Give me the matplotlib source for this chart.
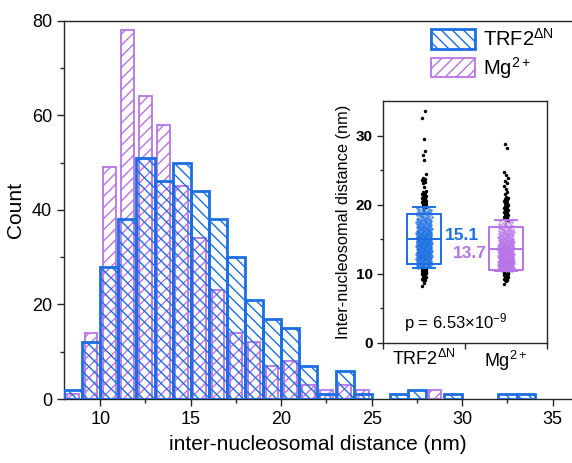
import numpy as np
import matplotlib
matplotlib.use('Agg')
import matplotlib.pyplot as plt

plt.rcParams['font.family'] = ['Liberation Sans', 'DejaVu Sans']
plt.rcParams['mathtext.fontset'] = 'custom'
plt.rcParams['mathtext.rm'] = 'Liberation Sans'
plt.rcParams['mathtext.it'] = 'Liberation Sans:italic'
plt.rcParams['mathtext.bf'] = 'Liberation Sans:bold'
plt.rcParams['hatch.linewidth'] = 1.0

# ---------------- data ----------------
bin_left = np.arange(8, 34)          # 1-nm bins from 8 to 34
trf2_counts = [2, 12, 28, 38, 51, 46, 50, 44, 38, 30, 21, 17, 15, 7, 1, 6, 1, 0, 1, 2, 0, 1, 0, 0, 1, 1]
mg_counts = [1, 14, 49, 78, 64, 58, 45, 34, 23, 14, 12, 7, 8, 3, 2, 3, 2, 0, 0, 0, 2, 0, 0, 0, 0, 0]
series_labels = ['TRF2$\\mathregular{^{\\Delta N}}$', 'Mg$\\mathregular{^{2+}}$']

# box statistics
trf2_box = dict(whislo=10.9, q1=11.45, med=15.0, q3=18.7, whishi=19.65)
mg_box = dict(whislo=10.4, q1=10.55, med=13.65, q3=16.75, whishi=17.8)
mean_labels = ['15.1', '13.7']
p_text = 'p = 6.53×10$\\mathregular{^{-9}}$'

blue = '#1b6fe3'
purple = '#b874e6'
spine_c = '#262626'

W, H = 572, 463
fig = plt.figure(figsize=(W / 100, H / 100), dpi=100)

# main axes
L, R, T, B = 64, 572, 20.7, 399
ax = fig.add_axes([L / W, 1 - B / H, (R - L) / W, (B - T) / H])
trf2 = np.array(trf2_counts)
mg = np.array(mg_counts)
centers = bin_left + 0.5
mm = mg > 0
ax.bar(centers[mm], mg[mm], width=0.7, facecolor='none', edgecolor=purple,
       hatch='///', linewidth=1.3, label=series_labels[1], zorder=2)
mt = trf2 > 0
ax.bar(centers[mt], trf2[mt], width=1.0, facecolor='none', edgecolor=blue,
       hatch='\\\\\\', linewidth=2.0, label=series_labels[0], zorder=3)

ax.set_xlim(8, 8 + (R - L) / 18.1)
ax.set_ylim(0, 80)
ax.set_xticks([10, 15, 20, 25, 30, 35])
ax.set_xticks(np.arange(12.5, 36, 5), minor=True)
ax.set_yticks([0, 20, 40, 60, 80])
ax.set_yticks([10, 30, 50, 70], minor=True)
ax.tick_params(which='major', direction='out', length=5, width=1.0, labelsize=13, colors=spine_c)
ax.tick_params(which='minor', direction='out', length=3, width=1.0, colors=spine_c)
ax.tick_params(labelcolor='black')
for s in ['left', 'bottom', 'top']:
    ax.spines[s].set_color(spine_c)
    ax.spines[s].set_linewidth(1.0)
ax.spines['right'].set_visible(False)
ax.set_xlabel('inter-nucleosomal distance (nm)', fontsize=15, labelpad=5)
ax.set_ylabel('Count', fontsize=15, labelpad=5)

h, l = ax.get_legend_handles_labels()
leg = ax.legend(h[::-1], l[::-1], frameon=False, fontsize=14.5, loc='upper left',
                bbox_to_anchor=(431 / W, 1 - 28 / H), bbox_transform=fig.transFigure,
                borderpad=0, handlelength=2.2, handleheight=1.1, handletextpad=0.4,
                labelspacing=0.25, borderaxespad=0)

# inset axes
iL, iR, iT, iB = 383, 547, 101, 343
ax2 = fig.add_axes([iL / W, 1 - iB / H, (iR - iL) / W, (iB - iT) / H])
ax2.set_facecolor('white')
ax2.set_xlim(0.5, 2.5)
ax2.set_ylim(0, 35)

def expand(counts):
    vals = []
    for lo, n in zip(bin_left, counts):
        for k in range(n):
            vals.append(lo + (k + 0.5) / n)
    return np.array(vals)

phi = (np.sqrt(5) - 1) / 2
for pos, counts, st, col in [(1, trf2_counts, trf2_box, blue), (2, mg_counts, mg_box, purple)]:
    v = expand(counts)
    idx = np.arange(len(v))
    frac = (idx * phi) % 1.0
    inside = (v >= st['whislo']) & (v <= st['whishi'])
    # outliers: narrow black column
    xo = pos + (frac - 0.5) * 0.05
    ax2.plot(xo[~inside], v[~inside], 'o', color='black', ms=2.5, mew=0, zorder=3)
    xi = pos + (frac - 0.5) * 0.19
    ax2.plot(xi[inside], v[inside], 'o', color=col, ms=1.9, mew=0, alpha=0.8, zorder=4)
    ax2.bxp([dict(st, fliers=[])], positions=[pos], widths=0.42, showfliers=False,
            boxprops=dict(color=col, linewidth=1.4),
            medianprops=dict(color=col, linewidth=1.4),
            whiskerprops=dict(color=col, linewidth=1.4),
            capprops=dict(color=col, linewidth=1.4), capwidths=0.27,
            manage_ticks=False, zorder=5)

ax2.text(1.25, 15.6, mean_labels[0], color=blue, fontsize=12.5,
         fontweight='bold', ha='left', va='center')
ax2.text(1.77, 12.9, mean_labels[1], color=purple, fontsize=12.5,
         fontweight='bold', ha='right', va='center')
ax2.text(1.39, 3.0, p_text, fontsize=12, ha='center', va='center')

ax2.set_yticks([0, 10, 20, 30])
ax2.set_yticks([5, 15, 25], minor=True)
ax2.set_xticks([0.5, 1.5, 2.5])
ax2.set_xticklabels([])
ax2.set_xticks([1, 2], minor=True)
ax2.set_xticklabels(series_labels, minor=True, fontsize=13)
ax2.tick_params(axis='x', which='minor', length=0, pad=4)
ax2.tick_params(axis='x', which='major', direction='out', length=4, width=1.0, colors=spine_c)
ax2.tick_params(axis='y', which='major', direction='out', length=4, width=1.0, colors=spine_c)
ax2.tick_params(axis='y', which='minor', direction='out', length=2.5, width=1.0, colors=spine_c)
ax2.tick_params(labelcolor='black')
for lab in ax2.get_yticklabels():
    lab.set_fontweight('bold')
    lab.set_fontsize(11)
for s in ax2.spines.values():
    s.set_color(spine_c)
    s.set_linewidth(1.0)
ax2.set_ylabel('Inter-nucleosomal distance (nm)', fontsize=11.8, labelpad=3)

fig.savefig('out.png', dpi=100)
